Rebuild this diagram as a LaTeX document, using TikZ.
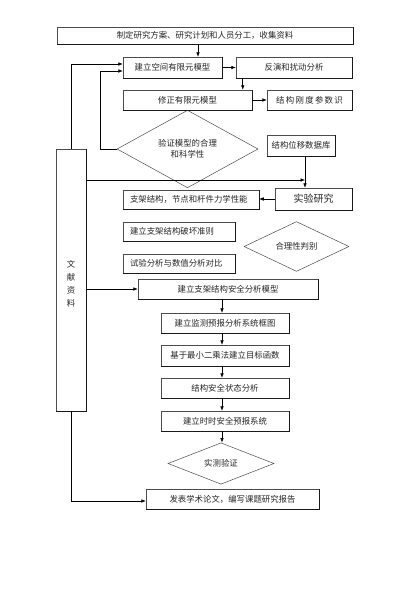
\documentclass[tikz,border=0pt]{standalone}
\usepackage{fontspec}
\setmainfont{Noto Sans CJK SC}
\usetikzlibrary{arrows.meta,shapes.geometric,calc}
\begin{document}
\begin{tikzpicture}[x=1pt,y=-1pt,
  txt/.style={font=\fontsize{8.4pt}{11pt}\selectfont,text=black!85},
  box/.style={txt,draw=black!70,line width=0.5pt,inner sep=0pt,minimum height=20pt},
  lbox/.style={box,align=left,inner xsep=7pt},
  dia/.style={txt,diamond,draw=black!70,line width=0.5pt,inner sep=0pt,align=center},
  arr/.style={-{Latex[length=4.5pt,width=3.6pt]},line width=0.6pt},
  ln/.style={line width=0.6pt},
  shd/.style={line width=0.9pt,black!90}
]
\useasboundingbox[fill=white] (0,0) rectangle (400,608);

% boxes
\node[box,minimum width=296pt,minimum height=17pt] (top) at (205,35.5) {制定研究方案、研究计划和人员分工，收集资料};
\node[box,minimum width=99pt,minimum height=21pt] (jianli) at (172.5,67.5) {建立空间有限元模型};
\node[box,minimum width=116pt,minimum height=21pt] (fanyan) at (294,67.5) {反演和扰动分析};
\node[box,minimum width=129pt] (xiuzheng) at (187.5,100) {修正有限元模型};
\node[box,minimum width=85pt] (gangdu) at (309.5,100) {结\hspace{1.3pt}构\hspace{1.3pt}刚\hspace{1.3pt}度\hspace{1.3pt}参\hspace{1.3pt}数\hspace{1.3pt}识};
\node[dia,minimum width=141pt,minimum height=52pt] (yanzheng) at (187.5,149) {验证模型的合理\\和科学性};
\node[box,minimum width=68pt,minimum height=21pt] (weiyi) at (301,145.5) {结构位移数据库};
\node[box,minimum width=30pt,minimum height=262pt] (wenxian) at (71,280) {};
\node[txt,align=center,inner sep=0pt,font=\fontsize{8.4pt}{13pt}\selectfont] (wenxiantxt) at (71,283.5) {文\\献\\资\\料};
\node[box,minimum width=77pt,minimum height=22pt,font=\fontsize{10pt}{12pt}\selectfont] (shiyan) at (313.5,199) {实验研究};
\node[lbox,text width=122pt,minimum height=19pt] (zhijia) at (191,199.5) {支架结构，节点和杆件力学性能};
\node[lbox,text width=98pt,minimum height=19pt] (pohuai) at (179,231.5) {建立支架结构破坏准则};
\node[dia,minimum width=105pt,minimum height=39pt] (heli) at (296.5,246.5) {合理性判别};
\node[lbox,text width=98pt,minimum height=19pt] (duibi) at (179,263.5) {试验分析与数值分析对比};
\node[box,minimum width=180pt] (anquan) at (228,289) {建立支架结构安全分析模型};
\node[box,minimum width=128pt] (jiance) at (225,323) {建立监测预报分析系统框图};
\node[box,minimum width=128pt,minimum height=21pt] (zuixiao) at (225,355.5) {基于最小二乘法建立目标函数};
\node[box,minimum width=128pt] (zhuangtai) at (225,388) {结构安全状态分析};
\node[box,minimum width=128pt] (shishi) at (225,421) {建立时时安全预报系统};
\node[dia,minimum width=106pt,minimum height=39pt] (shice) at (221,463.5) {实测验证};
\node[box,minimum width=173pt] (fabiao) at (232.5,499) {发表学术论文，编写课题研究报告};

% darker shadow edges
\foreach \n in {top,jianli,fanyan,xiuzheng,gangdu,weiyi,wenxian,shiyan,zhijia,pohuai,duibi,anquan,jiance,zuixiao,zhuangtai,shishi,fabiao}
  \draw[shd] (\n.south west) -- (\n.south east) -- (\n.north east);

% helper coordinates
\coordinate (ax) at (222,0);
\coordinate (wy) at ([xshift=4pt]weiyi.south);
\coordinate (w1) at ([yshift=100pt]wenxian.east);
\coordinate (w2) at ([yshift=-9pt]wenxian.east);

% connectors
\draw[arr] ([xshift=25.5pt]jianli.north |- top.south) -- ([xshift=25.5pt]jianli.north);
\draw[arr] (jianli.east) -- (fanyan.west);
\draw[arr] ([xshift=7pt]fanyan.south west) -- ([xshift=7pt]fanyan.south west |- xiuzheng.north);
\draw[arr] (xiuzheng.east) -- (gangdu.west);
\draw[arr] (wenxian.north) |- ([yshift=3.5pt]jianli.west);
\draw[arr] (yanzheng.west) -- ++(-16,0) |- ([yshift=-3.5pt]jianli.west);
\draw[arr] (wy) -- (wy |- shiyan.north);
\draw[arr] (w1) -- (w1 -| wy);
\draw[arr] (shiyan.west) -- (shiyan.west -| zhijia.east);
\draw[arr] (w2) -- (w2 -| anquan.west);
\draw[arr] (anquan.south -| ax) -- (jiance.north -| ax);
\draw[arr] (jiance.south -| ax) -- (zuixiao.north -| ax);
\draw[arr] (zuixiao.south -| ax) -- (zhuangtai.north -| ax);
\draw[arr] (zhuangtai.south -| ax) -- (shishi.north -| ax);
\draw[arr] (shishi.south -| ax) -- (shice.north -| ax);
\draw[arr] (wenxian.south) |- ([yshift=-2pt]fabiao.west);
\end{tikzpicture}
\end{document}
